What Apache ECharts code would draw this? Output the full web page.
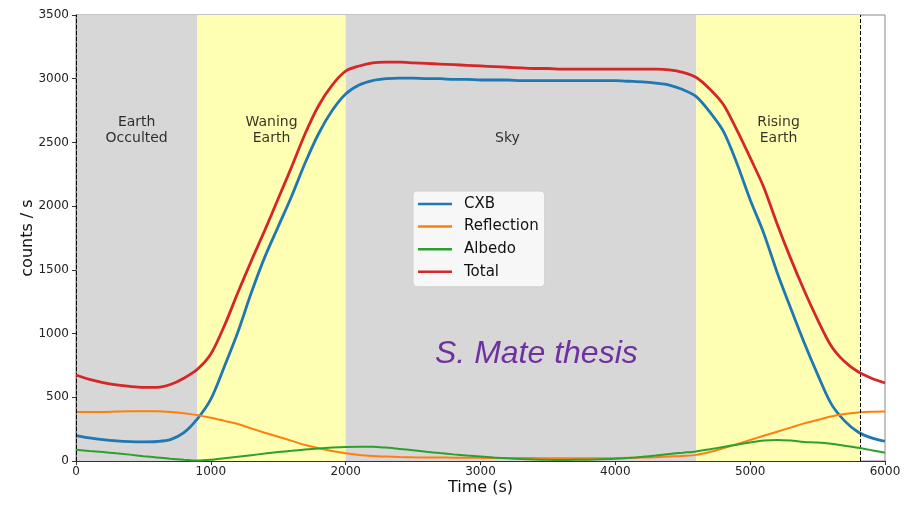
<!DOCTYPE html>
<html>
<head>
<meta charset="utf-8">
<script src="https://cdn.jsdelivr.net/npm/echarts@6/dist/echarts.min.js"></script>
<style>
  html, body { margin: 0; padding: 0; background: #fff; }
  #chart { width: 904px; height: 505px; }
</style>
</head>
<body>
<div id="chart"></div>
<script>
// sample times (s), one reading every 100 s
const times = Array.from({length: 61}, (_, i) => i * 100);

// counts / s (centre of the noisy band)
const cxb = [200,182,168,158,152,150,153,168,222,330,
  485,740,1010,1320,1600,1840,2080,2340,2570,2750,
  2880,2950,2985,3000,3005,3005,3000,3000,2995,2995,
  2990,2990,2990,2985,2985,2985,2985,2985,2985,2985,
  2985,2980,2975,2965,2950,2915,2860,2740,2590,2340,
  2050,1790,1480,1200,930,680,450,315,228,182,
  155];
const reflection = [385,385,385,388,390,390,390,385,375,360,
  340,315,290,255,222,190,158,125,100,78,
  60,48,40,35,31,29,28,27,26,25,
  25,24,24,23,23,22,22,22,22,22,
  23,25,27,30,35,40,48,70,100,132,
  165,198,230,262,295,322,350,368,380,386,
  388];
const albedo = [88,78,70,60,50,38,28,18,10,4,
  10,22,34,46,58,70,80,90,98,105,
  110,112,112,105,95,85,73,62,52,43,
  36,28,21,15,11,9,8,9,10,13,
  17,24,33,43,55,65,75,92,110,128,
  145,160,165,160,150,145,135,120,104,85,
  65];
const total = [675,640,615,597,585,578,578,600,650,720,
  840,1060,1320,1570,1810,2060,2310,2570,2790,2950,
  3060,3100,3125,3130,3130,3125,3120,3115,3110,3105,
  3100,3095,3090,3085,3080,3080,3075,3075,3075,3075,
  3075,3075,3075,3075,3070,3050,3010,2920,2800,2600,
  2380,2150,1860,1590,1340,1110,905,780,700,650,
  612];

// orbit phases
const phaseStart = [5, 900, 2000, 4600];
const phaseEnd = [900, 2000, 4600, 5820];
const phaseKind = ['earth', 'edge', 'sky', 'edge'];
const phaseNames = ['Earth\nOcculted', 'Waning\nEarth', 'Sky', 'Rising\nEarth'];
const phaseNameX = [450, 1450, 3200, 5210];
const phaseNameY = 2470;
const dashedAt = [5, 5820];

const seriesNames = ['CXB', 'Reflection', 'Albedo', 'Total'];
const seriesValues = [cxb, reflection, albedo, total];
const colors = ['#1f77b4', '#ff7f0e', '#2ca02c', '#d62728'];
const kindColor = { earth: '#d7d7d7', sky: '#d7d7d7', edge: '#ffffb3' };

const font = 'DejaVu Sans';
const chart = echarts.init(document.getElementById('chart'));

const lines = seriesNames.map((name, k) => ({
  name: name,
  type: 'line',
  data: times.map((t, i) => [t, seriesValues[k][i]]),
  showSymbol: false,
  symbol: 'none',
  smooth: 0.3,
  z: 3 + k,
  lineStyle: { color: colors[k], width: (k === 0 || k === 3) ? 2.8 : 2 },
  itemStyle: { color: colors[k] }
}));

lines[0].markArea = {
  silent: true,
  z: 1,
  data: phaseStart.map((s, i) => [
    { xAxis: s, itemStyle: { color: kindColor[phaseKind[i]] } },
    { xAxis: phaseEnd[i] }
  ])
};
lines[0].markLine = {
  silent: true,
  symbol: ['none', 'none'],
  label: { show: false },
  lineStyle: { color: '#000', width: 1, type: [4, 2] },
  data: dashedAt.map(x => ({ xAxis: x }))
};

const labelSeries = {
  type: 'scatter',
  silent: true,
  symbolSize: 0,
  z: 10,
  data: phaseNames.map((n, i) => ({ name: n, value: [phaseNameX[i], phaseNameY] })),
  label: {
    show: true,
    position: 'top',
    distance: 0,
    formatter: p => p.name,
    fontFamily: font,
    fontSize: 14,
    lineHeight: 16,
    color: '#000',
    align: 'center'
  }
};

const plain = v => String(v);

chart.setOption({
  animation: false,
  backgroundColor: '#fff',
  grid: { left: 76, right: 19, top: 15, bottom: 44, show: true, borderColor: '#888', borderWidth: 1, backgroundColor: 'transparent' },
  legend: {
    data: seriesNames,
    orient: 'vertical',
    left: 413,
    top: 191,
    padding: [4, 6, 6, 5],
    itemGap: 4.6,
    itemWidth: 34,
    itemHeight: 2.5,
    icon: 'rect',
    backgroundColor: '#f7f7f7',
    borderColor: '#d0d0d0',
    borderWidth: 1,
    borderRadius: 4,
    textStyle: { fontFamily: font, fontSize: 15, lineHeight: 18, color: '#111', padding: [0, 0, 0, 7] }
  },
  xAxis: {
    type: 'value',
    min: 0,
    max: 6000,
    interval: 1000,
    name: 'Time (s)',
    nameLocation: 'middle',
    nameGap: 19,
    nameMoveOverlap: false,
    nameTextStyle: { fontFamily: font, fontSize: 16, color: '#111' },
    axisLine: { show: true, lineStyle: { color: '#333' } },
    axisTick: { show: true, length: 4, lineStyle: { color: '#333' } },
    axisLabel: { fontFamily: font, fontSize: 12, color: '#222', margin: 5, formatter: plain },
    splitLine: { show: false }
  },
  yAxis: {
    type: 'value',
    min: 0,
    max: 3500,
    interval: 500,
    name: 'counts / s',
    nameLocation: 'middle',
    nameGap: 40,
    nameMoveOverlap: false,
    nameTextStyle: { fontFamily: font, fontSize: 16, color: '#111' },
    axisLine: { show: true, lineStyle: { color: '#333' } },
    axisTick: { show: true, length: 4, lineStyle: { color: '#333' } },
    axisLabel: { fontFamily: font, fontSize: 12, color: '#222', margin: 7, formatter: plain },
    splitLine: { show: false }
  },
  graphic: [{
    type: 'text',
    z: 100,
    style: {
      text: 'S. Mate thesis',
      x: 435,
      y: 354,
      verticalAlign: 'middle',
      font: 'italic 32px "Liberation Sans", Arial, sans-serif',
      fill: '#7030a0'
    }
  }],
  series: lines.concat([labelSeries])
});
</script>
</body>
</html>
